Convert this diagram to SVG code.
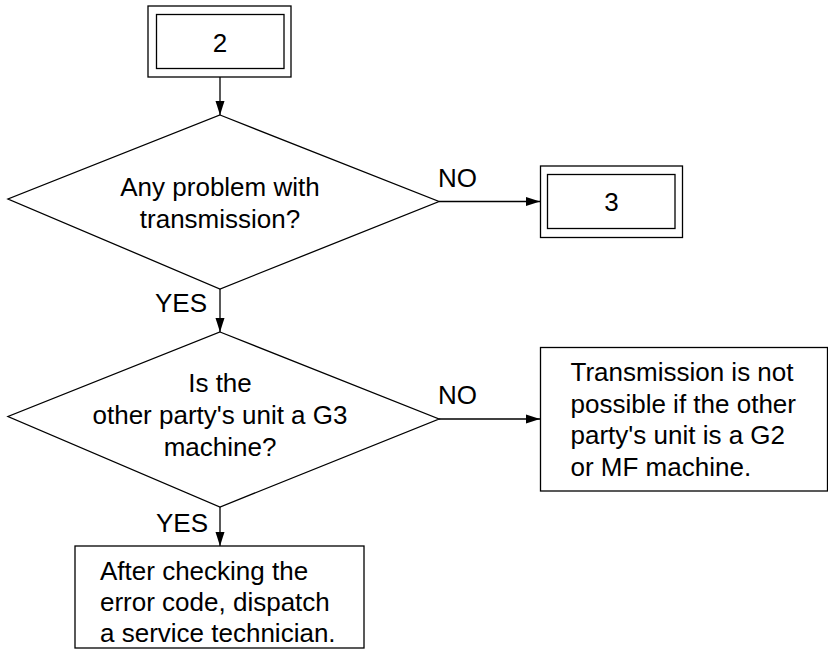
<svg xmlns="http://www.w3.org/2000/svg" width="828" height="660" viewBox="0 0 828 660">
<defs>
<style>
.s{fill:#fff;stroke:#000;stroke-width:1.3}
.t{font-family:"Liberation Sans",Arial,sans-serif;font-size:26px;fill:#000}
.c{text-anchor:middle}
.l{fill:none;stroke:#000;stroke-width:1.3}
</style>
<marker id="ah" markerUnits="userSpaceOnUse" markerWidth="14" markerHeight="10" refX="14" refY="5" orient="auto">
<path d="M0,0.5 L14,5 L0,9.5 Z" fill="#000"/>
</marker>
</defs>
<rect width="828" height="660" fill="#fff"/>
<g id="connectors">
<line class="l" x1="220" y1="77" x2="220" y2="115" marker-end="url(#ah)"/>
<line class="l" x1="439" y1="201.5" x2="540" y2="201.5" marker-end="url(#ah)"/>
<text class="t" x="438" y="187">NO</text>
<line class="l" x1="220" y1="289" x2="220" y2="332" marker-end="url(#ah)"/>
<text class="t" x="155" y="312">YES</text>
<line class="l" x1="439" y1="419" x2="540" y2="419" marker-end="url(#ah)"/>
<text class="t" x="438" y="404">NO</text>
<line class="l" x1="220" y1="507" x2="220" y2="546" marker-end="url(#ah)"/>
<text class="t" x="156" y="532">YES</text>
</g>
<g id="start2">
<rect class="s" x="148" y="6" width="143" height="71"/>
<rect class="s" x="156.5" y="14.5" width="127.5" height="54"/>
<text class="t c" x="220" y="52">2</text>
</g>
<g id="decision1">
<polygon class="s" points="220,115 439,201.5 220,289 8,199"/>
<text class="t c" x="220" y="196">Any problem with</text>
<text class="t c" x="220" y="228">transmission?</text>
</g>
<g id="goto3">
<rect class="s" x="540.5" y="166" width="142" height="71.5"/>
<rect class="s" x="547.5" y="174.5" width="127.5" height="54"/>
<text class="t c" x="611.5" y="211">3</text>
</g>
<g id="decision2">
<polygon class="s" points="220,332 439,419 220,507 8,416.5"/>
<text class="t c" x="220" y="392">Is the</text>
<text class="t c" x="220" y="424">other party's unit a G3</text>
<text class="t c" x="220" y="456">machine?</text>
</g>
<g id="notpossible">
<rect class="s" x="540.5" y="347.5" width="287" height="143.5"/>
<text class="t" x="570.5" y="381">Transmission is not</text>
<text class="t" x="570.5" y="412.5">possible if the other</text>
<text class="t" x="570.5" y="444">party's unit is a G2</text>
<text class="t" x="570.5" y="475.5">or MF machine.</text>
</g>
<g id="dispatch">
<rect class="s" x="75" y="546" width="289" height="102"/>
<text class="t" x="100" y="580">After checking the</text>
<text class="t" x="100" y="611">error code, dispatch</text>
<text class="t" x="100" y="642">a service technician.</text>
</g>
</svg>
